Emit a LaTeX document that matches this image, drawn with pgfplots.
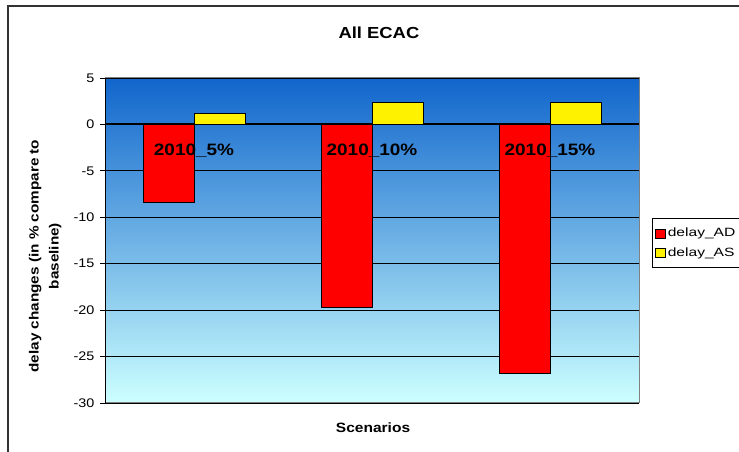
\documentclass[border=0pt]{standalone}
\usepackage{fontspec}
\setmainfont{Liberation Sans}[FakeStretch=1.15]
\newfontfamily\legfont{Liberation Sans}[FakeStretch=1.3]
\usepackage{pgfplots}
\pgfplotsset{compat=1.18}

\definecolor{bartop}{RGB}{17,102,204}
\definecolor{barbot}{RGB}{204,255,255}

\pgfplotsset{
  frame/.style={
    at={(105pt,49pt)}, anchor=south west,
    scale only axis,
    width=534pt, height=325pt,
    xmin=-0.5, xmax=2.5,
    ymin=-30, ymax=5,
  },
}

\begin{document}
\begin{tikzpicture}[x=1pt,y=1pt]
\clip (0,0) rectangle (739,452);
\fill[white] (0,0) rectangle (739,452);
\draw[line width=1.5pt, black!80] (8,-20) rectangle (760,446);
\begin{axis}[
    frame,
    ybar=0pt, bar width=51pt,
    ytick={-30,-25,...,5},
    xtick=\empty,
    y tick label style={font=\fontsize{12.5}{14}\selectfont, xshift=-2pt},
    /pgf/number format/assume math mode=true,
    tick align=outside, ytick pos=left,
    major tick length=5pt,
    major y tick style={black, line width=0.8pt},
    ymajorgrids, grid style={black, line width=0.8pt},
    extra y ticks={0}, extra y tick labels={},
    extra y tick style={grid style={black, line width=2pt}, major tick length=5pt},
    axis line style={gray, line width=1pt},
    axis background/.style={top color=bartop, bottom color=barbot},
    title={All ECAC},
    title style={at={(axis description cs:0.513,1.12)}, anchor=center, font=\fontsize{16}{18}\selectfont\bfseries},
    xlabel={Scenarios},
    xlabel style={at={(axis description cs:0.502,-0.077)}, anchor=center, font=\fontsize{13.5}{15}\selectfont\bfseries},
    ylabel={delay changes (in \% compare to\\baseline)},
    ylabel style={at={(axis description cs:-0.112,0.452)}, anchor=center, align=center, font=\fontsize{13.3}{20}\selectfont\bfseries},
    legend style={at={(axis description cs:1.0243,0.569)}, anchor=north west, draw=black, fill=white,
        font=\legfont\fontsize{12}{14}\selectfont, row sep=5pt, inner xsep=3pt, inner ysep=8pt, cells={anchor=west}},
    legend image code/.code={\draw[#1, line width=0.6pt] (0pt,-4.5pt) rectangle (10pt,4.5pt);},
]
\addplot[fill=red, draw=black, line width=0.8pt] coordinates {(0,-8.4) (1,-19.7) (2,-26.8)};
\addlegendentry{delay\_AD}
\addplot[fill=yellow, draw=black, line width=0.8pt] coordinates {(0,1.2) (1,2.4) (2,2.4)};
\addlegendentry{delay\_AS}
\draw[black, line width=1pt] (rel axis cs:0,0) -- (rel axis cs:0,1);
\end{axis}
% category names, set over the bars
\begin{axis}[
    frame,
    axis line style={draw=none},
    ytick=\empty,
    xtick={0,1,2},
    xticklabels={2010\_5\%,2010\_10\%,2010\_15\%},
    x tick label style={anchor=center, yshift=252pt, font=\fontsize{16.5}{18}\selectfont\bfseries},
    major x tick style={draw=none},
]
\end{axis}
\end{tikzpicture}
\end{document}
